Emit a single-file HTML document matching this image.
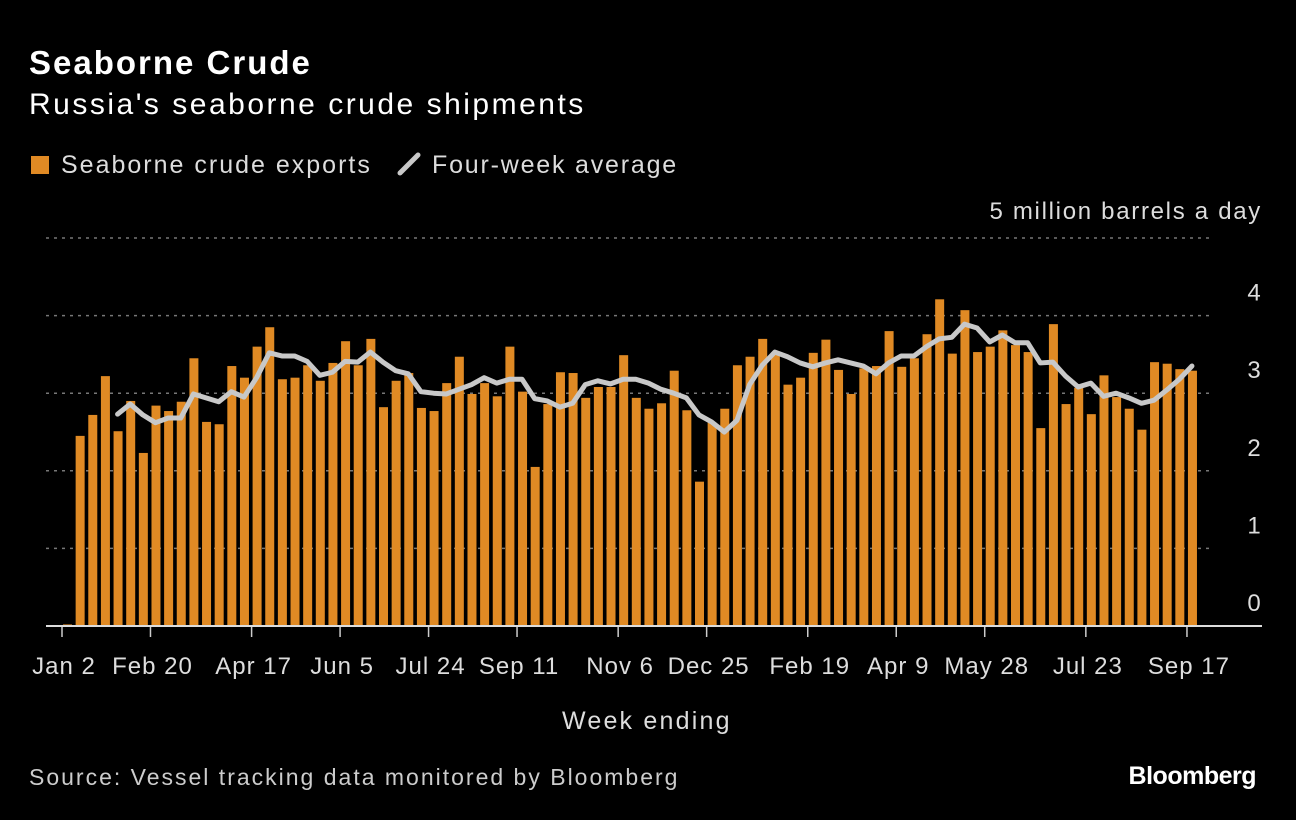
<!DOCTYPE html>
<html><head><meta charset="utf-8"><style>
body{margin:0;background:#000;width:1296px;height:820px;overflow:hidden;font-family:"Liberation Sans",sans-serif;color:#e6e6e6}
.t{position:absolute;white-space:nowrap}
</style></head><body>
<div class="t" style="left:29px;top:44px;font-size:33px;font-weight:bold;color:#fff;letter-spacing:2px">Seaborne Crude</div>
<div class="t" style="left:29px;top:88px;font-size:30px;color:#fff;letter-spacing:2.5px">Russia's seaborne crude shipments</div>
<div class="t" style="left:31px;top:151px;font-size:25px;color:#ddd;letter-spacing:2px"><span style="display:inline-block;width:18px;height:18px;background:#e08a24;margin-right:12px;vertical-align:-1px"></span>Seaborne crude exports</div>
<div class="t" style="left:396px;top:151px;font-size:25px;color:#ddd;letter-spacing:1.8px"><svg width="26" height="24" style="vertical-align:-3px;margin-right:10px"><line x1="4" y1="21" x2="22" y2="3" stroke="#c8c8c8" stroke-width="5" stroke-linecap="round"/></svg>Four-week average</div>
<div class="t" style="right:34px;top:198px;font-size:24px;color:#ddd;letter-spacing:1.7px">5 million barrels a day</div>
<svg id="chart" width="1296" height="820" style="position:absolute;left:0;top:0"></svg>
<div class="t" style="left:562px;top:707px;font-size:25px;color:#ddd;letter-spacing:2.2px">Week ending</div>
<div class="t" style="left:29px;top:764px;font-size:23px;color:#ccc;letter-spacing:2px">Source: Vessel tracking data monitored by Bloomberg</div>
<div class="t" style="right:40px;top:762px;font-size:25px;font-weight:bold;color:#fff;letter-spacing:-0.5px">Bloomberg</div>
<script>
const exportsVals=[0.02,2.45,2.72,3.22,2.51,2.90,2.23,2.84,2.77,2.89,3.45,2.63,2.60,3.35,3.20,3.60,3.85,3.18,3.20,3.36,3.16,3.39,3.67,3.36,3.70,2.82,3.16,3.26,2.81,2.77,3.13,3.47,2.99,3.13,2.96,3.60,3.02,2.05,2.86,3.27,3.26,2.94,3.08,3.08,3.49,2.94,2.80,2.87,3.29,2.78,1.86,2.62,2.80,3.36,3.47,3.70,3.52,3.11,3.20,3.52,3.69,3.30,2.99,3.32,3.35,3.80,3.34,3.45,3.76,4.21,3.51,4.07,3.53,3.60,3.81,3.62,3.53,2.55,3.89,2.86,3.07,2.73,3.23,2.95,2.80,2.53,3.40,3.38,3.31,3.29];
const avgStart=4;
const avgVals=[2.73,2.86,2.72,2.62,2.68,2.68,2.99,2.94,2.89,3.02,2.95,3.20,3.52,3.48,3.48,3.41,3.23,3.27,3.41,3.40,3.53,3.40,3.29,3.25,3.02,3.00,2.99,3.05,3.11,3.20,3.13,3.18,3.18,2.93,2.90,2.82,2.87,3.11,3.16,3.12,3.18,3.18,3.13,3.05,3.00,2.94,2.72,2.63,2.50,2.65,3.11,3.36,3.53,3.47,3.39,3.34,3.39,3.43,3.39,3.35,3.25,3.39,3.48,3.48,3.60,3.70,3.72,3.89,3.84,3.66,3.75,3.65,3.65,3.39,3.40,3.22,3.08,3.13,2.96,3.00,2.94,2.87,2.91,3.04,3.18,3.35];
const tickIdx=[0,7,15,22,29,36,44,51,59,66,73,81,89];
const tickLabels=["Jan 2","Feb 20","Apr 17","Jun 5","Jul 24","Sep 11","Nov 6","Dec 25","Feb 19","Apr 9","May 28","Jul 23","Sep 17"];
const yTicks=[0,1,2,3,4,5];
const NS="http://www.w3.org/2000/svg",svg=document.getElementById('chart');
const x=i=>62+i*12.64, y=v=>626-v*77.6;
function mk(t,a){const e=document.createElementNS(NS,t);for(const k in a)e.setAttribute(k,a[k]);svg.appendChild(e);return e;}
yTicks.forEach(v=>{
  if(v>0){const g=mk('line',{x1:46,x2:1212,y1:y(v),y2:y(v),stroke:'#777','stroke-width':1.5,'stroke-dasharray':'3,5'});
  
  }
  if(v<5){const t=mk('text',{x:1254,y:y(v)-15,'text-anchor':'middle',fill:'#ddd','font-size':24,'font-family':'Liberation Sans, sans-serif'});t.textContent=v;
  
  }
});
exportsVals.forEach((v,i)=>{
  const r=mk('rect',{x:x(i)+1,y:y(v),width:9,height:v*77.6,fill:'#e08a24'});
  
  
});
const ax=mk('line',{x1:46,x2:1262,y1:626,y2:626,stroke:'#ddd','stroke-width':2});


tickIdx.forEach((ti,k)=>{
  const l=mk('line',{x1:x(ti),x2:x(ti),y1:627,y2:637,stroke:'#ccc','stroke-width':1.5});
  
  
  const t=mk('text',{x:x(ti)+2,y:674,'text-anchor':'middle',fill:'#ddd','font-size':24,'letter-spacing':1,'font-family':'Liberation Sans, sans-serif'});
  t.textContent=tickLabels[k];
  
  
});
const pts=avgVals.map((v,j)=>(x(j+avgStart)+5)+','+y(v)).join(' ');
const pl=mk('polyline',{points:pts,fill:'none',stroke:'#c8c8c8','stroke-width':5,'stroke-linejoin':'round','stroke-linecap':'round'});


</script>
</body></html>
